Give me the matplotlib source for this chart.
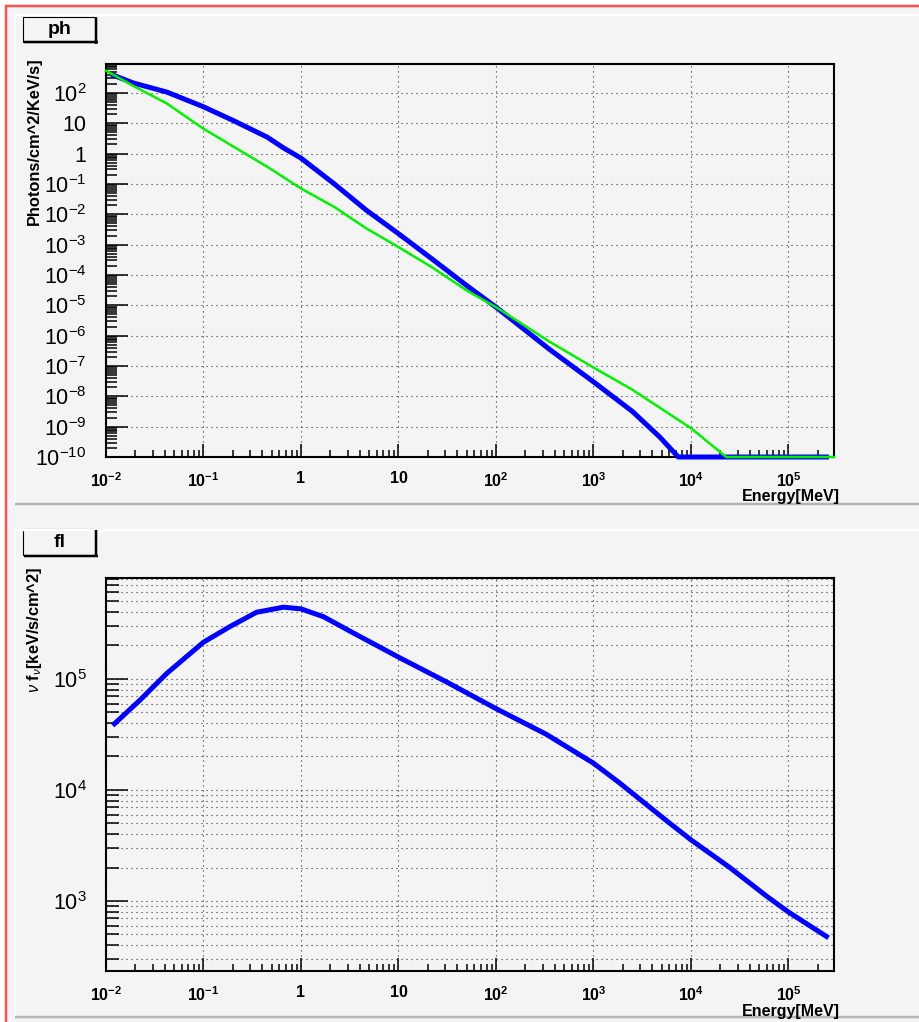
import numpy as np
import matplotlib
matplotlib.use('Agg')
import matplotlib.pyplot as plt
from matplotlib.ticker import LogLocator, NullFormatter
from matplotlib.lines import Line2D
from matplotlib.patches import Rectangle

plt.rcParams['font.family'] = ['Liberation Sans', 'DejaVu Sans']
plt.rcParams['mathtext.fontset'] = 'custom'
plt.rcParams['mathtext.rm'] = 'Liberation Sans'
plt.rcParams['mathtext.it'] = 'Liberation Sans:italic'
plt.rcParams['mathtext.bf'] = 'Liberation Sans:bold'

# ---------------- data ----------------
# top panel "ph": photon spectrum, blue curve
ph_blue_energy = [0.012, 0.019, 0.042, 0.1, 0.2, 0.45, 0.66, 1.0, 2.2, 4.7, 10, 22, 50,
                  100, 355, 1000, 2500, 4800, 7400, 2.45e5]
ph_blue_flux = [380, 214, 107, 35, 12.5, 3.5, 1.55, 0.71, 0.1, 0.0135, 2.3e-3, 3.4e-4, 4.5e-5,
                8.7e-6, 3.5e-7, 3.0e-8, 3.2e-9, 4.5e-10, 1e-10, 1e-10]
# top panel "ph": green curve
ph_green_energy = [0.01, 0.0186, 0.042, 0.1, 0.2, 0.45, 1.0, 2.2, 4.7, 10, 22, 50,
                   100, 355, 1000, 2500, 1e4, 2.3e4, 2.93e5]
ph_green_flux = [540, 178, 45, 6.6, 1.75, 0.37, 0.071, 0.0174, 3.4e-3, 8.3e-4, 1.8e-4, 3.1e-5,
                 8.7e-6, 6.3e-7, 8.9e-8, 1.66e-8, 8.9e-10, 1e-10, 1e-10]
# bottom panel "fl": nu F nu, blue curve
fl_energy = [0.0122, 0.0224, 0.042, 0.1, 0.186, 0.35, 0.66, 1.0, 1.7, 3.5, 10, 31,
             100, 330, 1000, 1820, 5900, 1e4, 2.5e4, 6.0e4, 1e5, 2.45e5]
fl_nufnu = [3.94e4, 6.46e4, 1.12e5, 2.14e5, 2.95e5, 3.98e5, 4.42e5, 4.27e5, 3.63e5,
            2.57e5, 1.57e5, 9.4e4, 5.4e4, 3.16e4, 1.74e4, 1.17e4, 5.1e3, 3.55e3, 2.0e3, 1.1e3,
            794, 479]

x_ticks = [1e-2, 1e-1, 1, 10, 1e2, 1e3, 1e4, 1e5]
x_ticklabels = [r'$\mathbf{10^{-2}}$', r'$\mathbf{10^{-1}}$', '1', '10', r'$\mathbf{10^{2}}$',
                r'$\mathbf{10^{3}}$', r'$\mathbf{10^{4}}$', r'$\mathbf{10^{5}}$']
ph_yticks = [1e-10, 1e-9, 1e-8, 1e-7, 1e-6, 1e-5, 1e-4, 1e-3, 1e-2, 1e-1, 1, 10, 1e2]
ph_yticklabels = [r'$10^{-10}$', r'$10^{-9}$', r'$10^{-8}$', r'$10^{-7}$', r'$10^{-6}$',
                  r'$10^{-5}$', r'$10^{-4}$', r'$10^{-3}$', r'$10^{-2}$', r'$10^{-1}$',
                  '1', '10', r'$10^{2}$']
fl_yticks = [1e3, 1e4, 1e5]
fl_yticklabels = [r'$10^{3}$', r'$10^{4}$', r'$10^{5}$']

x_range = (1e-2, 2.93e5)
ph_range = (1e-10, 900)
fl_range = (234, 8.1e5)

# ---------------- figure ----------------
W, H = 920, 1022
BG = '#f4f4f4'
fig = plt.figure(figsize=(W / 100, H / 100), dpi=100, facecolor=BG)


def fx(px):
    return px / W


def fy(py):
    return 1 - py / H


def hline(x0, x1, py, color, lw_px):
    fig.add_artist(Line2D([fx(x0), fx(x1)], [fy(py), fy(py)], transform=fig.transFigure,
                          color=color, lw=lw_px * 0.72, solid_capstyle='butt'))


def vline(px, y0, y1, color, lw_px):
    fig.add_artist(Line2D([fx(px), fx(px)], [fy(y0), fy(y1)], transform=fig.transFigure,
                          color=color, lw=lw_px * 0.72, solid_capstyle='butt'))


# outer white margin + red window border
fig.add_artist(Rectangle((0, fy(5.5)), 1, 5.5 / H, transform=fig.transFigure,
                         facecolor='white', edgecolor='none'))
fig.add_artist(Rectangle((0, 0), 5.5 / W, 1, transform=fig.transFigure,
                         facecolor='white', edgecolor='none'))
hline(5, 920, 6.5, '#ff5050', 2.5)
vline(6.5, 5, 1022, '#ff5050', 2.5)

# pad bevels
hline(14, 920, 14.8, 'white', 2.5)
vline(15, 14, 503, 'white', 2)
hline(15, 920, 504, '#b4b4b4', 2.5)
hline(14, 920, 529.5, 'white', 2.5)
vline(15, 528, 1016, 'white', 2)
hline(15, 920, 1017, '#b4b4b4', 2.5)


def title_box(x0, y0, x1, y1, text):
    fig.add_artist(Rectangle((fx(x0), fy(y1)), (x1 - x0) / W, (y1 - y0) / H,
                             transform=fig.transFigure, facecolor=BG, edgecolor='black', lw=0.8))
    vline(x1 + 0.5, y0 + 1, y1 + 1.8, 'black', 2.5)
    hline(x0 + 1, x1 + 1.8, y1 + 0.5, 'black', 2.5)
    fig.text(fx((x0 + x1) / 2), fy((y0 + y1) / 2), text, ha='center', va='center',
             fontsize=14, fontweight='bold')


title_box(23, 17, 96, 42, 'ph')
title_box(23, 529, 96, 555, 'fl')

ax1 = fig.add_axes([fx(106), fy(457), 728 / W, 393 / H])
ax2 = fig.add_axes([fx(106), fy(971), 728 / W, 393 / H])

GRID = dict(linestyle=(0, (1, 3.5)), color='#333333', linewidth=0.8)


def setup(ax, ylim, yticks, yticklabels, minor_len, minor_grid):
    ax.set_xscale('log')
    ax.set_yscale('log')
    ax.set_xlim(*x_range)
    ax.set_ylim(*ylim)
    ax.set_facecolor(BG)
    for s in ax.spines.values():
        s.set_linewidth(1.5)
        s.set_color('black')
    ax.set_xticks(x_ticks)
    ax.set_xticklabels(x_ticklabels, fontsize=11.5, fontweight='bold')
    ax.xaxis.set_minor_locator(LogLocator(base=10, subs=np.arange(2, 10), numticks=100))
    ax.xaxis.set_minor_formatter(NullFormatter())
    ax.set_yticks(yticks)
    ax.set_yticklabels(yticklabels, fontsize=15.5)
    ax.yaxis.set_minor_locator(LogLocator(base=10, subs=np.arange(2, 10), numticks=100))
    ax.yaxis.set_minor_formatter(NullFormatter())
    ax.tick_params(which='both', direction='in', top=False, right=False, width=1.1,
                   color='black')
    ax.tick_params(axis='y', which='major', length=15.8, pad=14)
    ax.tick_params(axis='y', which='minor', length=minor_len)
    ax.tick_params(axis='x', which='major', length=9.4, pad=10)
    ax.tick_params(axis='x', which='minor', length=5)
    ax.grid(True, which='major', axis='both', **GRID)
    if minor_grid:
        ax.grid(True, which='minor', axis='y', **GRID)


setup(ax1, ph_range, ph_yticks, ph_yticklabels, 7.9, False)
setup(ax2, fl_range, fl_yticks, fl_yticklabels, 9.4, True)

ax1.plot(ph_blue_energy, ph_blue_flux, color='#0000ff', lw=3.6, clip_on=False,
         solid_joinstyle='round', zorder=3)
ax1.plot(ph_green_energy, ph_green_flux, color='#00ee00', lw=1.8, clip_on=False,
         solid_joinstyle='round', zorder=4)
ax2.plot(fl_energy, fl_nufnu, color='#0000ff', lw=3.6, clip_on=False,
         solid_joinstyle='round', zorder=3)

# axis titles
fig.text(fx(840), fy(489.5), 'Energy[MeV]', ha='right', va='top', fontsize=11.5,
         fontweight='bold')
fig.text(fx(840), fy(1003.5), 'Energy[MeV]', ha='right', va='top', fontsize=11.5,
         fontweight='bold')
fig.text(fx(34), fy(57), 'Photons/cm^2/KeV/s]', rotation=90, ha='center', va='top',
         fontsize=11.8, fontweight='bold')
fig.text(fx(35), fy(567), r'$\nu$ f$_{\nu}$[keV/s/cm^2]', rotation=90, ha='center', va='top',
         fontsize=11.8, fontweight='bold')

fig.savefig('out.png', dpi=100, facecolor=BG)
